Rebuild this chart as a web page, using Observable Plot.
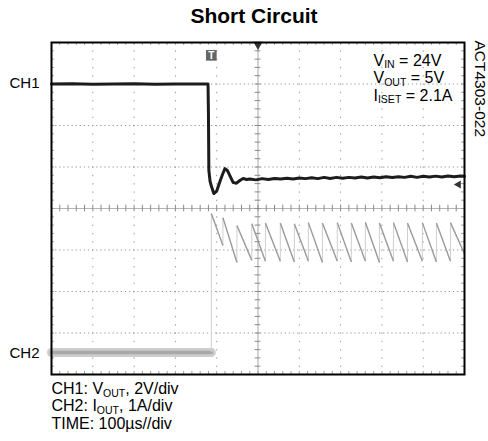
<!DOCTYPE html>
<html><head><meta charset="utf-8">
<script src="https://cdn.jsdelivr.net/npm/d3@7"></script>
<script src="https://cdn.jsdelivr.net/npm/@observablehq/plot@0.6"></script>
<style>body{margin:0;background:#fff}</style>
</head><body><div id="chart"></div>
<script>
// ---- Data read from the scope capture (time in µs, CH1 in V, CH2 in A) ----
const ch1Time = [-500,-450,-400,-350,-300,-250,-200,-150,-121,-120,-119,-116,-112,-107,-100,-93,-86,-80,-74,-67,-60,-52,-44,-36,-28,-20,-5,10,25,40,55,70,85,100,115,130,145,160,175,190,205,220,235,250,265,280,295,310,325,340,355,370,385,400,415,430,445,460,475,490,500];
const ch1Volt = [5.0,5.01,4.99,5.0,5.01,4.99,5.0,5.0,5.0,3.6,0.84,0.3,0.02,-0.28,-0.16,0.25,0.64,0.92,0.83,0.54,0.25,0.22,0.35,0.45,0.4,0.42,0.38,0.44,0.4,0.45,0.42,0.46,0.42,0.47,0.44,0.48,0.44,0.5,0.45,0.5,0.46,0.5,0.47,0.52,0.47,0.52,0.48,0.53,0.49,0.53,0.5,0.55,0.5,0.55,0.52,0.56,0.52,0.57,0.53,0.57,0.56];
const ch2LowTime = [-500, -113];
const ch2LowAmp = [0, 0];
const toothStart = [-113,-85,-51,-15,18,54,88,122,156,192,226,260,294,328,362,398,432,466];
const toothPeak  = [3.35,3.25,3.06,3.1,3.12,3.12,3.1,3.13,3.12,3.13,3.12,3.14,3.12,3.13,3.12,3.13,3.12,3.13];
const toothEnd   = [2.58,2.17,2.22,2.2,2.2,2.18,2.2,2.17,2.2,2.18,2.2,2.17,2.2,2.18,2.2,2.18,2.2,2.38];
const triggerTime = -113;
const ch1Marker = 0.16;       // V, right-edge level marker
const conditions = ["V_{IN} = 24V", "V_{OUT} = 5V", "I_{ISET} = 2.1A"];
const caption = ["CH1: V_{OUT}, 2V/div", "CH2: I_{OUT}, 1A/div", "TIME: 100µs//div"];
const title = "Short Circuit";
const partId = "ACT4303-022";

// ---- Scope settings ----
const CH1_VDIV = 2, CH1_POS = 0.5;     // 2 V/div, ground 0.5 div above centre
const CH2_ADIV = 1, CH2_POS = -3.47;   // 1 A/div
const T_END = 500;

const ch1 = ch1Time.map((t, i) => ({t, y: ch1Volt[i] / CH1_VDIV + CH1_POS}));
const ch2Low = ch2LowTime.map((t, i) => ({t, y: ch2LowAmp[i] / CH2_ADIV + CH2_POS}));
const slopes = [], jumps = [];
toothStart.forEach((t, i) => {
  const prev = i === 0 ? ch2LowAmp[1] : toothEnd[i - 1];
  const next = i + 1 < toothStart.length ? toothStart[i + 1] : T_END;
  jumps.push({t1: t, y1: prev / CH2_ADIV + CH2_POS, t2: t, y2: toothPeak[i] / CH2_ADIV + CH2_POS});
  slopes.push({t1: t, y1: toothPeak[i] / CH2_ADIV + CH2_POS, t2: next, y2: toothEnd[i] / CH2_ADIV + CH2_POS});
});

const xGrid = [-400,-300,-200,-100,100,200,300,400];
const yGrid = [-3,-2,-1,1,2,3];
const xMinor = d3.range(-480, 500, 20);
const yMinor = d3.range(-3.8, 4, 0.2).map(v => +v.toFixed(1));

const txt = (s, anchor, dx, dy, o = {}) => Plot.text([s], {frameAnchor: anchor, dx, dy, lineAnchor: "bottom", textAnchor: "start", fontSize: 16, fill: "#000", ...o});

const plot = Plot.plot({
  width: 488, height: 441,
  marginTop: 42, marginLeft: 51, marginRight: 24, marginBottom: 67,
  x: {domain: [-500, 500], axis: null},
  y: {domain: [-4, 4], axis: null},
  style: {fontFamily: "'Liberation Sans', Arial, sans-serif", background: "#fff", color: "#000"},
  marks: [
    Plot.ruleX(xGrid, {stroke: "#9a9a9a", strokeDasharray: "1.4 6.9", strokeWidth: 1}),
    Plot.ruleY(yGrid, {stroke: "#9a9a9a", strokeDasharray: "1.3 2.8", strokeWidth: 1}),
    Plot.ruleX([0], {stroke: "#b5b5b5", strokeWidth: 1.2}),
    Plot.ruleY([0], {stroke: "#b5b5b5", strokeWidth: 1.2}),
    Plot.ruleX(xMinor, {x: d => d, y1: -0.08, y2: 0.08, stroke: "#8a8a8a"}),
    Plot.ruleY(yMinor, {y: d => d, x1: -7, x2: 7, stroke: "#8a8a8a"}),
    Plot.ruleX(xMinor, {x: d => d, y1: 4, y2: 3.93, stroke: "#9a9a9a"}),
    Plot.ruleX(xMinor, {x: d => d, y1: -4, y2: -3.93, stroke: "#9a9a9a"}),
    Plot.ruleY(yMinor, {y: d => d, x1: -500, x2: -493, stroke: "#9a9a9a"}),
    Plot.ruleY(yMinor, {y: d => d, x1: 500, x2: 493, stroke: "#9a9a9a"}),
    // CH2
    Plot.line(ch2Low, {x: "t", y: "y", stroke: "#cdcdcd", strokeWidth: 9}),
    Plot.line(ch2Low, {x: "t", y: "y", stroke: "#a8a8a8", strokeWidth: 3.5}),
    Plot.link(jumps, {x1: "t1", y1: "y1", x2: "t2", y2: "y2", stroke: "#cfcfcf", strokeWidth: 1}),
    Plot.link(slopes, {x1: "t1", y1: "y1", x2: "t2", y2: "y2", stroke: "#9a9a9a", strokeWidth: 1.4}),
    // CH1
    Plot.line(ch1, {x: "t", y: "y", stroke: "#1c1c1c", strokeWidth: 3, curve: "linear"}),
    // markers
    Plot.dot([triggerTime], {x: d => d, y: 3.69, symbol: "square", r: 6, fill: "#666"}),
    Plot.text(["T"], {x: triggerTime, y: 3.69, fill: "#fff", fontSize: 10, fontWeight: "bold"}),
    Plot.dot([0], {x: d => d, y: 4, symbol: "triangle", rotate: 180, r: 3.5, fill: "#333", dy: 2}),
    Plot.dot([ch1Marker], {x: T_END, y: d => d / CH1_VDIV + CH1_POS, symbol: "triangle", rotate: -90, r: 3, fill: "#333", dx: -6}),
    Plot.frame({stroke: "#000", strokeWidth: 2}),
    // text
    txt(title, "top", -4, -20, {textAnchor: "middle", fontSize: 21, fontWeight: "bold"}),
    txt("CH1", "top-left", -12, 45, {textAnchor: "end", fontSize: 15}),
    txt("CH2", "top-left", -12, 315, {textAnchor: "end", fontSize: 15}),
    ...conditions.map((s, i) => txt(s, "top-right", -91, 23 + i * 17.5)),
    txt(partId, "top-right", 15, -2, {rotate: 90, lineAnchor: "middle", fontSize: 15.5}),
    ...caption.map((s, i) => txt(s, "bottom-left", 0, 19.5 + i * 17.3))
  ]
});
document.getElementById("chart").appendChild(plot);

// subscripts
d3.select(plot).selectAll("text").each(function () {
  const s = this.textContent;
  if (!s.includes("_{")) return;
  const sel = d3.select(this);
  sel.text(null);
  let shifted = false;
  s.split(/(_\{[^}]*\})/).filter(Boolean).forEach(p => {
    if (p.startsWith("_{")) {
      sel.append("tspan").attr("font-size", "10.5px").attr("dy", 2.5).text(p.slice(2, -1));
      shifted = true;
    } else {
      const ts = sel.append("tspan").text(p);
      if (shifted) { ts.attr("dy", -2.5); shifted = false; }
    }
  });
});
</script></body></html>
